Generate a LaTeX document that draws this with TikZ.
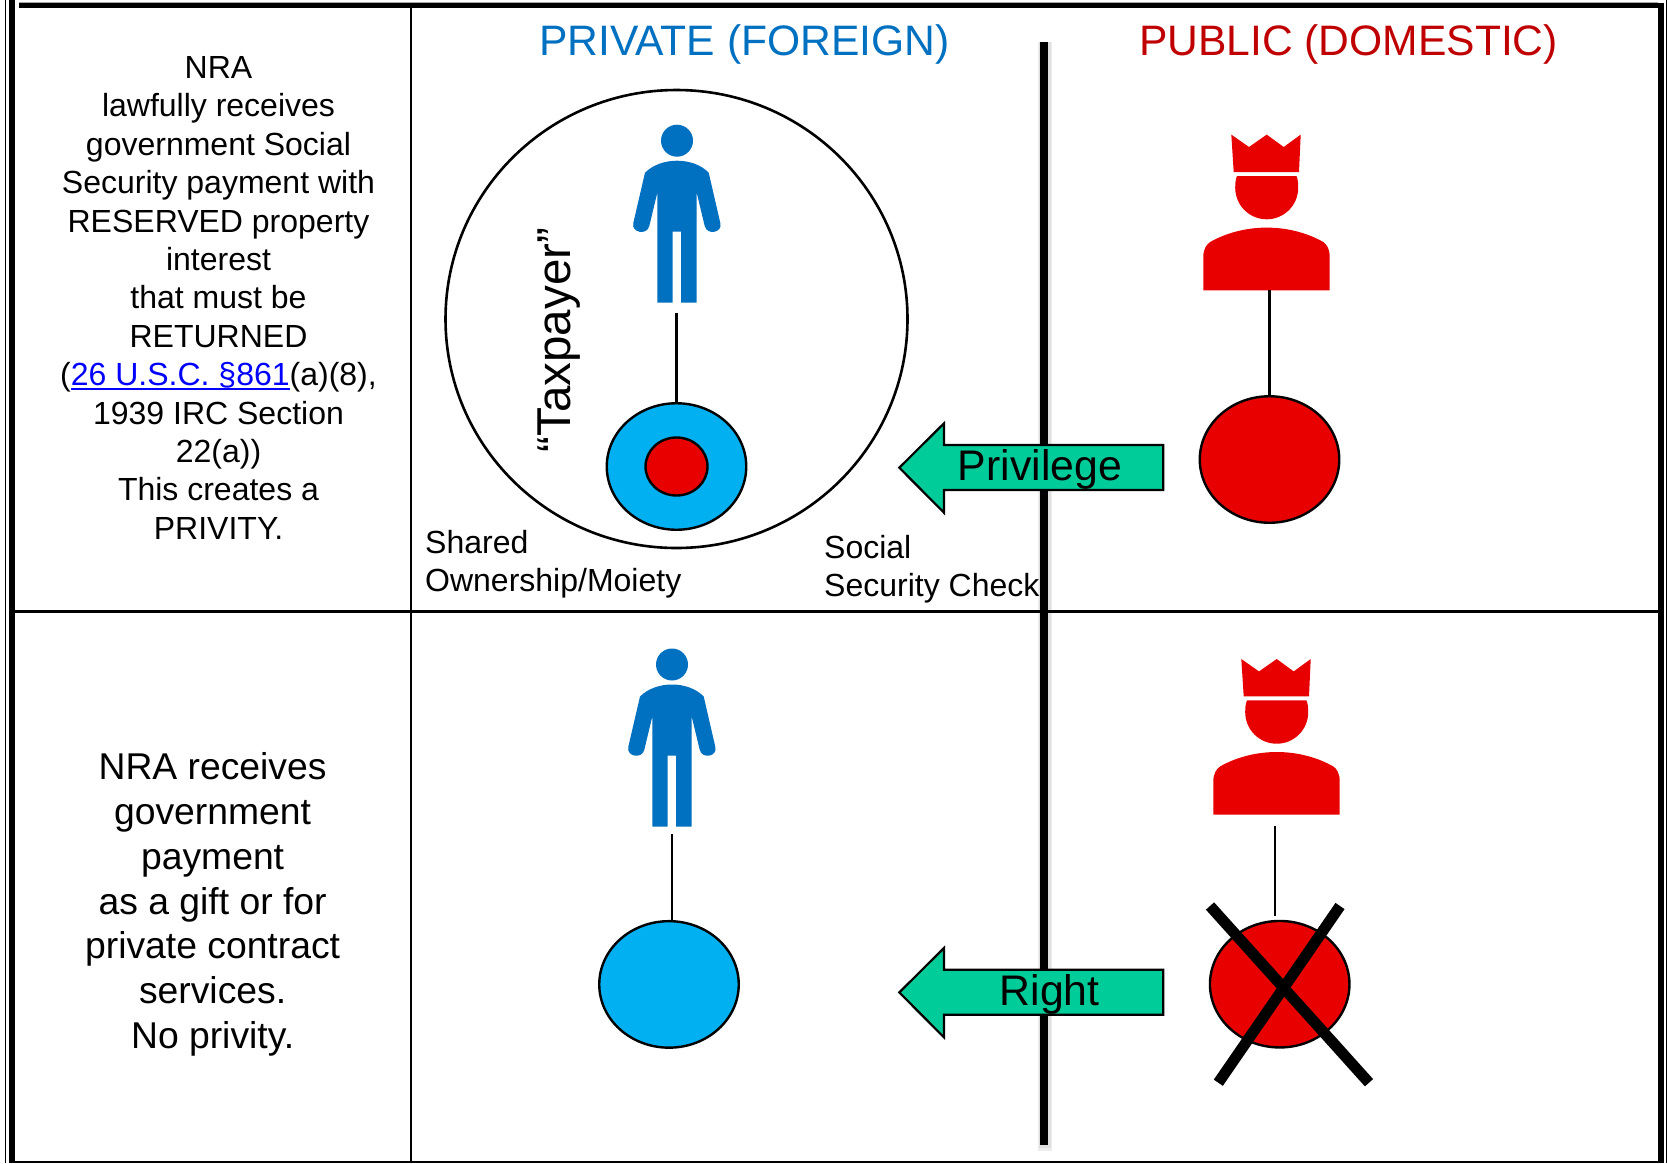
\documentclass[tikz,border=0pt]{standalone}
\usepackage{fontspec}
\setmainfont{Liberation Sans}
\usetikzlibrary{shapes.geometric}
\definecolor{persblue}{HTML}{0070C0}
\definecolor{discblue}{HTML}{00B0F0}
\definecolor{kingred}{HTML}{E80000}
\definecolor{titlered}{HTML}{C00000}
\definecolor{arrowgreen}{HTML}{00CC99}
\definecolor{linkblue}{HTML}{0000FF}
\newcommand{\lnkline}[1]{{\color{linkblue}\setbox0\hbox{#1}\rlap{\rule[-4.5pt]{\wd0}{1.8pt}}\box0}}
\tikzset{
  disc/.style={ellipse,draw=black,line width=2.4pt,minimum width=139.5pt,minimum height=126.5pt,inner sep=0pt},
  gridline/.style={line width=2.2pt,black},
  stem/.style={line width=2.4pt,black},
  crossbar/.style={line width=11pt,black},
  flow/.style={draw=black,line width=2.2pt,fill=arrowgreen,line join=miter},
  flowlabel/.style={font=\fontsize{42.8}{46}\selectfont,anchor=base,inner sep=0pt},
  smalltext/.style={font=\fontsize{32}{38}\selectfont,anchor=base west,inner sep=0pt},
  titletext/.style={font=\fontsize{42.6}{46}\selectfont,anchor=base,inner sep=0pt},
  personpic/.pic={
    \fill[persblue] (0,0) circle[radius=16pt];
    \fill[persblue,line join=round] (0,20) .. controls (12,20) and (24,24) .. (31.7,32)
      -- (43.3,82.3) .. controls (46,92) and (30,95) .. (27.7,85.3)
      -- (19.7,52) -- (19.7,162) -- (4,162) -- (4,91) -- (-4.3,91) -- (-4.3,162) -- (-19.7,162) -- (-19.7,52)
      -- (-27.7,85.3) .. controls (-30,95) and (-46,92) .. (-43.7,82.3)
      -- (-32,32) .. controls (-24,24) and (-12,20) .. (0,20) -- cycle;
  },
  kingpic/.pic={
    \fill[kingred] (-35.4,0) -- (-17.7,12.4) -- (0,0) -- (17,12.4) -- (34,0) -- (32.3,37.4) -- (-33,37.4) -- cycle;
    \fill[kingred] (-29.7,41.4) .. controls (-31,44) and (-31.5,48) .. (-31.5,53.2)
      .. controls (-31.5,70.6) and (-17.4,84.7) .. (0,84.7)
      .. controls (17.4,84.7) and (31.5,70.6) .. (31.5,53.2)
      .. controls (31.5,48) and (31,44) .. (29.7,41.4) -- cycle;
    \fill[kingred] (-63.4,155.7) -- (-63.4,122.4) .. controls (-63.4,114) and (-60,110) .. (-56.7,107.5)
      .. controls (-42,99) and (-22,93) .. (0,93)
      .. controls (22,93) and (42,99) .. (56.7,107.5)
      .. controls (60,110) and (63,114) .. (63,122.4) -- (63,155.7) -- cycle;
  }
}
\begin{document}
\begin{tikzpicture}[x=1pt,y=-1pt]
\useasboundingbox (0,0) rectangle (1667,1163);
\fill[white] (0,0) rectangle (1667,1163);
% soft shadow of the divider
\fill[black!7] (1038,42) rectangle (1052,1151);
\fill[black!12] (1039,42) rectangle (1050.5,1148);
% frame
\fill[black!35] (19,1.8) rectangle (1658,3);
\fill[black] (19,3) rectangle (1664,8);
\fill[black] (9,0) rectangle (15,1163);
\fill[black] (1658,3) rectangle (1664,1163);
\fill[black] (5,0) rectangle (6.4,1163);
\fill[black] (1665.6,0) rectangle (1667,1163);
\fill[black] (15,1161) rectangle (1658,1163);
\draw[gridline] (411,8) -- (411,1161);
\draw[gridline] (15,611.5) -- (1658,611.5);
% central divider
\fill[black] (1040,42) rectangle (1048,1145);
% titles
\node[titletext,text=persblue] (tpriv) at (744.5,55.5) {PRIVATE (FOREIGN)};
\node[titletext,text=titlered] (tpub) at (1348.5,55.5) {PUBLIC (DOMESTIC)};
% left texts
\node[align=center,inner sep=0pt,font=\fontsize{32}{38.4}\selectfont] (upper) at (218.5,297.9) {NRA\\lawfully receives\\government Social\\Security payment with\\RESERVED property\\interest\\that must be\\RETURNED\\(\lnkline{26 U.S.C. §861}(a)(8),\\1939 IRC Section\\22(a))\\This creates a\\PRIVITY.};
\node[align=center,inner sep=0pt,font=\fontsize{37.3}{44.8}\selectfont] (lower) at (212.6,904.4) {NRA receives\\government\\payment\\as a gift or for\\private contract\\services.\\No privity.};
% upper row, private
\node[ellipse,draw=black,line width=2.6pt,minimum width=462pt,minimum height=458pt,inner sep=0pt] (bigc) at (676.5,319) {};
\pic at (677,140.7) {personpic};
\coordinate (pAfoot) at (676.5,313);
\node[disc,fill=discblue] (blueA) at (676.5,466.5) {};
\node[ellipse,draw=black,line width=2.4pt,fill=kingred,minimum width=62pt,minimum height=58pt,inner sep=0pt] (redIn) at (676.5,466.5) {};
\draw[stem] (pAfoot) -- (pAfoot |- blueA.north);
\node[rotate=90,anchor=base,inner sep=0pt,font=\fontsize{47.5}{50}\selectfont] (taxp) at (570.5,340) {“Taxpayer”};
\node[smalltext] (sh1) at (425,553) {Shared};
\node[smalltext] (sh2) at (425,591) {Ownership/Moiety};
\node[smalltext] (so1) at (824,558) {Social};
\node[smalltext] (so2) at (824,596) {Security Check};
% upper row, public
\pic at (1266.7,134.6) {kingpic};
\coordinate (kAfoot) at (1269.5,290);
\node[disc,fill=kingred] (redA) at (1269.5,459.5) {};
\draw[stem] (kAfoot) -- (kAfoot |- redA.north);
% privilege arrow
\draw[flow] (899.3,467.7) -- (944,423.3) -- (944,445) -- (1163.3,445) -- (1163.3,490) -- (944,490) -- (944,512.7) -- cycle;
\node[flowlabel] (lpriv) at (1040,480) {Privilege};
% lower row, private
\pic at (672,664.5) {personpic};
\coordinate (pBfoot) at (672,833.5);
\node[disc,fill=discblue] (blueB) at (669,984.4) {};
\draw[stem] (pBfoot) -- (pBfoot |- blueB.north);
% lower row, public
\pic at (1276.7,659) {kingpic};
\coordinate (kBfoot) at (1275,826);
\coordinate (kBend) at (1275,916);
\draw[stem] (kBfoot) -- (kBend);
\node[disc,fill=kingred] (redB) at (1279.7,984.2) {};
\draw[crossbar] (1210,906) -- (1369,1082.7);
\draw[crossbar] (1340,906) -- (1218.3,1082.7);
% right arrow
\draw[flow] (899.3,992.4) -- (944,948) -- (944,969.7) -- (1163.3,969.7) -- (1163.3,1014.7) -- (944,1014.7) -- (944,1037.4) -- cycle;
\node[flowlabel] (lright) at (1049.6,1005) {Right};
\end{tikzpicture}
\end{document}
